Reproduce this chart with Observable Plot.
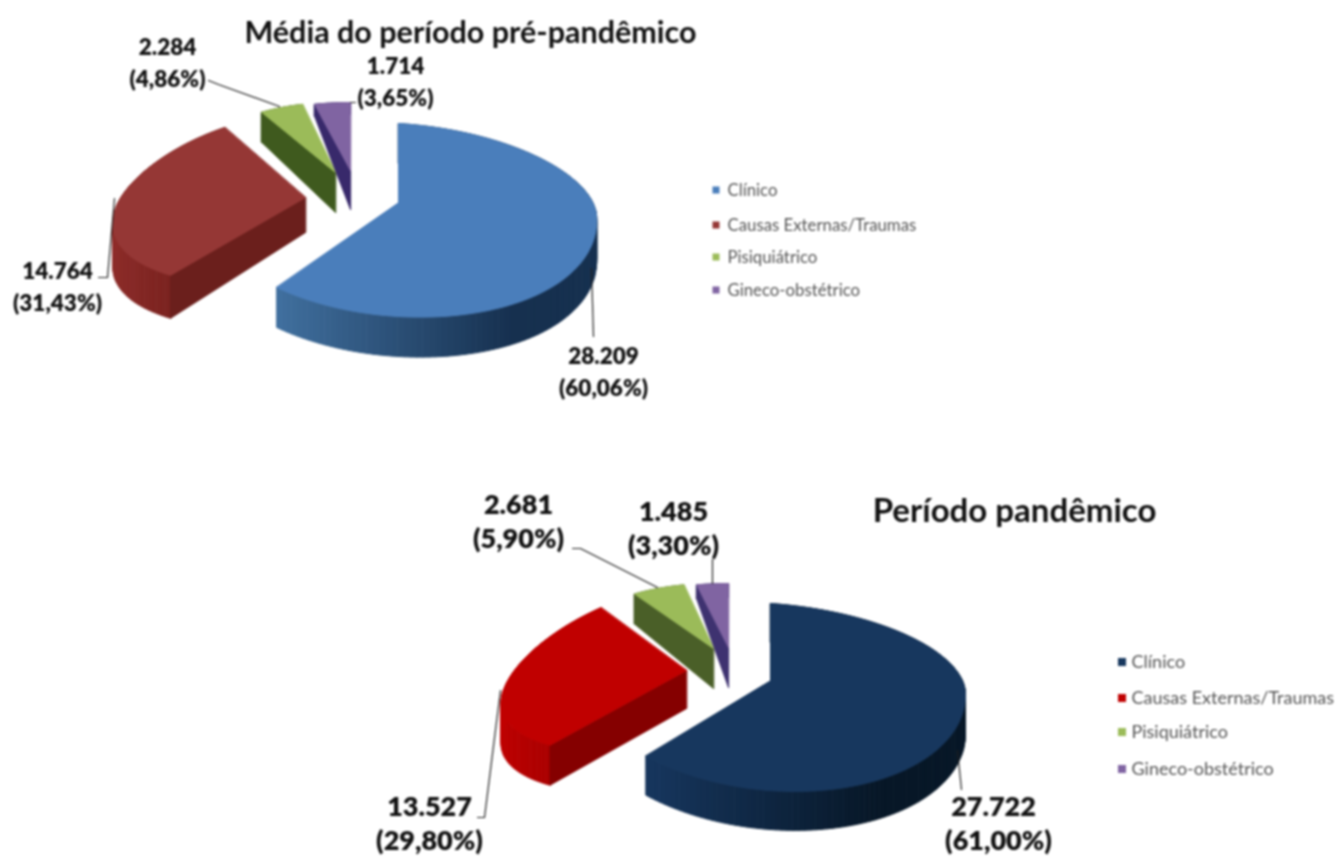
<!doctype html>
<html><head><meta charset="utf-8">
<script src="https://cdn.jsdelivr.net/npm/d3@7"></script>
<script src="https://cdn.jsdelivr.net/npm/@observablehq/plot@0.6"></script>
<style>html,body{margin:0;padding:0;background:#fff;overflow:hidden}svg{display:block;filter:blur(.8px)}</style>
</head><body><div id="chart"></div>
<script>
const categories = ["Clínico", "Causas Externas/Traumas", "Pisiquiátrico", "Gineco-obstétrico"];
const valuesPre = [28209, 14764, 2284, 1714];
const valuesPan = [27722, 13527, 2681, 1485];
const percentPre = ["60,06%", "31,43%", "4,86%", "3,65%"];
const percentPan = ["61,00%", "29,80%", "5,90%", "3,30%"];
const titlePre = "Média do período pré-pandêmico";
const titlePan = "Período pandêmico";

// Layout and styling, separate from the values
const pies = [
  {values: valuesPre, percent: percentPre, title: titlePre,
   titlePos: [470, 33], titleSize: 30.5,
   labelSize: 22.5, labelGap: 32, pctShift: [0, 0, 0, 0],
   labelPos: [[603, 356], [57, 271], [167, 47], [395, 66]],
   leaders: [[[591, 268], [593, 336]], [[98, 277], [107, 277], [114, 198]], [[208, 80], [218, 84], [279, 106]], [[350, 102], [355, 102]]],
   legend: {swatchX: 716, textX: 727, ys: [190, 225, 257, 290], size: 16.8, sw: 7, clipAt: 918},
   parts: [
     {cx: 398, cy: 202, R: 198, k: .05, ryB: 79, ryF: 114, shear: 12, depth: 40, rimDepth: 40, top: "#4a7ebb", rim: ["#41709f", "#16304f"], rimU: [-.6, .55], face: "#2f5483"},
     {cx: 305, cy: 197, R: 188, k: .22, ryB: 85, ryF: 92, shear: -6, depth: 35, rimDepth: 43, top: "#953735", rim: ["#7c2320", "#8f2d2a"], rimU: [-.6, -1], face: "#6b1f1c"},
     {cx: 335, cy: 172, R: 145, k: 0, ryB: 70, ryF: 70, shear: 0, depth: 40, rimDepth: 30, top: "#9bbb59", rim: ["#3f5a1e", "#3f5a1e"], rimU: [-1, 1], face: "#3f5a1e"},
     {cx: 350, cy: 170, R: 158, k: 0, ryB: 68, ryF: 68, shear: 0, depth: 39, rimDepth: 12, top: "#8064a2", rim: ["#38296b", "#38296b"], rimU: [-1, 1], face: "#38296b"}
   ]},
  {values: valuesPan, percent: percentPan, title: titlePan,
   titlePos: [1014, 511], titleSize: 33,
   labelSize: 27, labelGap: 34, pctShift: [5, 0, 0, 0],
   labelPos: [[993, 807], [429, 807], [518, 505], [673, 512]],
   leaders: [[[957, 750], [961, 789]], [[477, 817], [484, 817], [500, 690]], [[572, 548], [580, 548], [657, 587]], [[712, 559], [712, 583]]],
   legend: {swatchX: 1122, textX: 1131, ys: [662, 698, 732, 769], size: 18, sw: 8, clipAt: 1336},
   parts: [
     {cx: 770, cy: 680, R: 195, k: 0, ryB: 77, ryF: 110, shear: 14, depth: 39, rimDepth: 39, top: "#17375e", rim: ["#16355c", "#071727"], rimU: [-.6, .55], face: "#0d2440"},
     {cx: 686, cy: 670, R: 182, k: .192, ryB: 86, ryF: 83, shear: -17, depth: 38, rimDepth: 40, top: "#c00000", rim: ["#a80000", "#c00000"], rimU: [-.6, -1], face: "#850000"},
     {cx: 713, cy: 648, R: 145, k: 0, ryB: 65, ryF: 65, shear: 0, depth: 40, rimDepth: 30, top: "#9bbb59", rim: ["#4a5f28", "#4a5f28"], rimU: [-1, 1], face: "#4a5f28"},
     {cx: 728, cy: 647, R: 156, k: 0, ryB: 64, ryF: 64, shear: 0, depth: 40, rimDepth: 14, top: "#8064a2", rim: ["#3e3270", "#3e3270"], rimU: [-1, 1], face: "#3e3270"}
   ]}
];
const legendColors = [["#4a7ebb", "#953735", "#9bbb59", "#8064a2"], ["#17375e", "#c00000", "#9bbb59", "#8064a2"]];

const project = (p, a, down = 0) => {
  const u = Math.sin(a), v = -Math.cos(a);
  return {x: p.cx + p.R * u / (1 - p.k * v),
          y: p.cy + (v > 0 ? p.ryF : p.ryB) * v + p.shear * u + down};
};

const tops = [], rims = [], faces = [], leaders = [], labels = [], swatches = [], legendText = [], titles = [], masks = [];
let id = 0;
pies.forEach((pie, pi) => {
  const total = d3.sum(pie.values);
  let cum = 0;
  pie.values.forEach((val, i) => {
    const p = pie.parts[i];
    const a0 = cum / total * 2 * Math.PI;
    cum += val;
    const a1 = cum / total * 2 * Math.PI;
    const n = Math.max(6, Math.ceil((a1 - a0) / 0.03));
    const angle = j => a0 + (a1 - a0) * j / n;
    // radial face at the slice's first edge
    const fid = id++;
    [{x: p.cx, y: p.cy}, project(p, a0), project(p, a0, p.rimDepth), {x: p.cx, y: p.cy + p.depth}]
      .forEach(q => faces.push({...q, id: fid, color: p.face, order: i}));
    // outer side, one quad per step so its shade can change along the rim
    const col = d3.interpolateRgb(p.rim[0], p.rim[1]);
    for (let j = 0; j < n; j++) {
      const rid = id++;
      const mid = angle(j + .5);
      const t = Math.max(0, Math.min(1, (Math.sin(mid) - p.rimU[0]) / (p.rimU[1] - p.rimU[0])));
      const c = col(t);
      const A = project(p, angle(j)), B = project(p, angle(j + 1));
      const C = project(p, angle(j + 1), p.rimDepth), D = project(p, angle(j), p.rimDepth);
      [A, B, C, D].forEach(q => rims.push({...q, id: rid, color: c, order: i}));
    }
    // top surface
    const tid = id++;
    tops.push({x: p.cx, y: p.cy, id: tid, color: p.top, order: i});
    for (let j = 0; j <= n; j++) tops.push({...project(p, angle(j)), id: tid, color: p.top, order: i});
    // labels
    const [lx, ly] = pie.labelPos[i];
    labels.push({x: lx, y: ly, text: d3.format(",")(val).replace(/,/g, "."), size: pie.labelSize});
    labels.push({x: lx + pie.pctShift[i], y: ly + pie.labelGap, text: "(" + pie.percent[i] + ")", size: pie.labelSize});
    const lid = id++;
    pie.leaders[i].forEach(([x, y]) => leaders.push({x, y, id: lid}));
    // legend
    const L = pie.legend;
    swatches.push({x1: L.swatchX - L.sw / 2, x2: L.swatchX + L.sw / 2, y1: L.ys[i] - L.sw / 2, y2: L.ys[i] + L.sw / 2, color: legendColors[pi][i]});
    legendText.push({x: L.textX, y: L.ys[i], text: categories[i], size: L.size});
  });
  titles.push({x: pie.titlePos[0], y: pie.titlePos[1], text: pie.title, size: pie.titleSize});
  masks.push({x1: pie.legend.clipAt, x2: pie.legend.clipAt + 40, y1: pie.legend.ys[1] - 14, y2: pie.legend.ys[1] + 14});
});

const poly = d => Plot.line(d, {x: "x", y: "y", z: "id", fill: "color", stroke: "color", strokeWidth: 1, curve: "linear-closed"});
const layers = [0, 1, 2, 3].flatMap(o => [
  poly(rims.filter(d => d.order === o)),
  poly(faces.filter(d => d.order === o)),
  poly(tops.filter(d => d.order === o))
]);

const chart = Plot.plot({
  width: 1336, height: 857, margin: 0,
  x: {domain: [0, 1336], range: [0, 1336], axis: null},
  y: {domain: [0, 857], range: [0, 857], axis: null},
  color: {type: "identity"},
  style: {background: "#fff"},
  marks: [
    ...layers,
    Plot.line(leaders, {x: "x", y: "y", z: "id", stroke: "#222", strokeWidth: 1.2}),
    Plot.rect(swatches, {x1: "x1", x2: "x2", y1: "y1", y2: "y2", fill: "color"}),
    Plot.text(legendText, {x: "x", y: "y", text: "text", fontSize: "size", fill: "#555", textAnchor: "start", fontFamily: "Lato"}),
    Plot.rect(masks, {x1: "x1", x2: "x2", y1: "y1", y2: "y2", fill: "#fff"}),
    Plot.text(labels, {x: "x", y: "y", text: "text", fontSize: "size", fill: "#111", fontWeight: 800, fontFamily: "Lato"}),
    Plot.text(titles, {x: "x", y: "y", text: "text", fontSize: "size", fill: "#111", fontWeight: 700, fontFamily: "Lato"})
  ]
});
document.getElementById("chart").append(chart);
</script></body></html>
